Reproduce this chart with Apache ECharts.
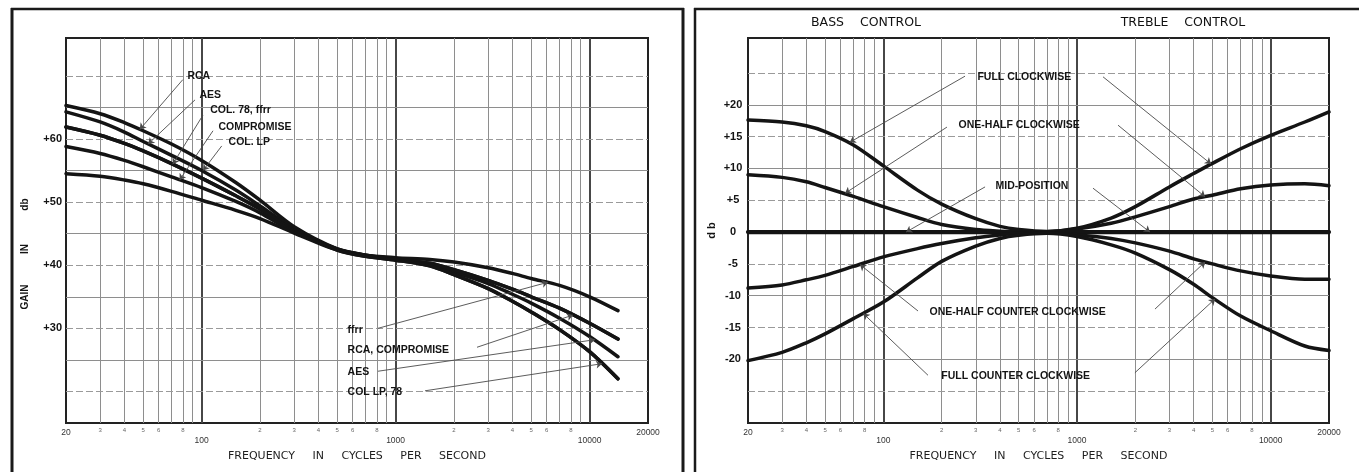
<!DOCTYPE html>
<html>
<head>
<meta charset="utf-8">
<title>Recording characteristics and tone control curves</title>
<script src="https://cdn.jsdelivr.net/npm/echarts@6/dist/echarts.min.js"></script>
<style>
  html, body { margin: 0; padding: 0; background: #ffffff; }
  #chart { width: 1359px; height: 472px; }
</style>
</head>
<body>
<div id="chart"></div>
<script>
// ---------- frequency axis (both panels) ----------
const FREQ_MIN = 20;
const FREQ_MAX = 20000;
const FREQ_DECADES = [100, 1000, 10000];
const FREQ_MINOR = [30, 40, 50, 60, 70, 80, 90,
                    200, 300, 400, 500, 600, 700, 800, 900,
                    2000, 3000, 4000, 5000, 6000, 7000, 8000, 9000];
const FREQ_MINOR_LABELED = [30, 40, 50, 60, 80,
                            200, 300, 400, 500, 600, 800,
                            2000, 3000, 4000, 5000, 6000, 8000];

// ---------- left panel: playback gain (db) ----------
const GAIN_MIN = 15;
const GAIN_MAX = 76;
const GAIN_TICK_LABELS = [30, 40, 50, 60];
const GAIN_GRID_SOLID = [25, 35, 45, 55, 65];
const GAIN_GRID_DASHED = [20, 30, 40, 50, 60, 70];

const FREQ_EQ = [20, 30, 40, 50, 70, 100, 150, 200, 300, 500, 700, 1000,
                 1500, 2000, 3000, 4000, 5000, 7000, 10000, 14000];
const RCA        = [65.3, 64.0, 62.6, 61.3, 59.2, 56.6, 53.1, 50.3, 46.1, 42.6, 41.6, 41.0,
                    40.3, 39.3, 37.6, 36.2, 35.0, 33.2, 30.8, 28.3];
const AES        = [64.3, 62.7, 61.1, 59.6, 57.4, 55.0, 51.9, 49.4, 45.8, 42.5, 41.5, 40.9,
                    40.1, 38.9, 37.1, 35.4, 34.0, 31.6, 28.7, 25.5];
const COL_78     = [61.9, 60.6, 59.3, 58.1, 56.1, 53.8, 51.0, 48.9, 45.5, 42.4, 41.4, 40.8,
                    39.9, 38.5, 36.3, 34.3, 32.6, 29.8, 26.3, 22.0];
const FFRR       = [61.9, 60.6, 59.3, 58.1, 56.1, 53.8, 51.0, 48.9, 45.5, 42.5, 41.6, 41.2,
                    40.9, 40.5, 39.6, 38.7, 37.9, 36.8, 35.0, 32.8];
const COMPROMISE = [58.8, 57.7, 56.6, 55.6, 54.0, 52.3, 50.1, 48.3, 45.3, 42.6, 41.6, 41.0,
                    40.3, 39.3, 37.6, 36.2, 35.0, 33.2, 30.8, 28.3];
const COL_LP     = [54.5, 54.1, 53.5, 52.9, 51.7, 50.3, 48.7, 47.4, 45.1, 42.4, 41.4, 40.8,
                    39.9, 38.5, 36.3, 34.3, 32.6, 29.8, 26.3, 22.0];

// ---------- right panel: bass / treble control (db) ----------
const DB_MIN = -30;
const DB_MAX = 30.5;
const DB_GRID_SOLID = [-20, -10, 10, 20];
const DB_GRID_DASHED = [-25, -15, -5, 5, 15, 25];

const FREQ_TONE = [20, 30, 40, 50, 70, 100, 150, 200, 300, 400, 500, 700,
                   1000, 1500, 2000, 3000, 4000, 5000, 7000, 10000, 15000, 20000];
const FULL_CW   = [17.6, 17.3, 16.7, 15.8, 13.7, 10.4, 6.6, 4.4, 2.1, 0.9, 0.4, 0.1,
                   0.6, 2.2, 4.0, 7.1, 9.2, 10.8, 13.1, 15.2, 17.3, 18.9];
const HALF_CW   = [9.0, 8.6, 7.9, 7.0, 5.6, 4.0, 2.3, 1.2, 0.4, 0.15, 0.05, 0.05,
                   0.5, 1.4, 2.4, 4.0, 5.2, 5.8, 6.8, 7.4, 7.6, 7.3];
const MID_POS   = [0, 0, 0, 0, 0, 0, 0, 0, 0, 0, 0, 0,
                   0, 0, 0, 0, 0, 0, 0, 0, 0, 0];
const HALF_CCW  = [-8.8, -8.3, -7.5, -6.8, -5.4, -3.9, -2.6, -1.8, -0.9, -0.45, -0.2, -0.1,
                   -0.4, -1.0, -1.7, -3.0, -4.2, -5.0, -6.1, -6.9, -7.4, -7.4];
const FULL_CCW  = [-20.2, -18.9, -17.4, -16.0, -13.6, -11.0, -7.2, -4.6, -2.2, -1.0, -0.5, -0.2,
                   -0.7, -2.0, -3.3, -5.9, -8.2, -10.3, -13.2, -15.5, -17.9, -18.6];

// ---------- callouts: text anchors and leader lines, in (Hz, db) ----------
const LEFT_NOTES = [
  { text: 'RCA',             at: [84, 70.0] },
  { text: 'AES',             at: [97, 67.0] },
  { text: 'COL. 78, ffrr',   at: [110, 64.6] },
  { text: 'COMPROMISE',      at: [121.5, 61.9] },
  { text: 'COL. LP',         at: [137, 59.5] },
  { text: 'ffrr',            at: [562, 29.7] },
  { text: 'RCA, COMPROMISE', at: [562, 26.6] },
  { text: 'AES',             at: [562, 23.1] },
  { text: 'COL LP, 78',      at: [562, 19.9] }
];
const LEFT_LEADERS = [
  [[80, 69.4], [48, 61.5]],
  [[92.5, 66.2], [53, 59.2]],
  [[101.7, 63.8], [71, 56.0]],
  [[114.5, 61.3], [77, 53.5]],
  [[127, 58.9], [101.7, 55.0]],
  [[811, 30.0], [6100, 37.3]],
  [[2628, 27.0], [8200, 32.1]],
  [[811, 23.2], [10660, 28.2]],
  [[1418, 20.1], [11600, 24.4]]
];
const RIGHT_NOTES = [
  { text: 'FULL CLOCKWISE',             at: [304, 24.4] },
  { text: 'ONE-HALF CLOCKWISE',         at: [243, 16.8] },
  { text: 'MID-POSITION',               at: [377, 7.2] },
  { text: 'ONE-HALF COUNTER CLOCKWISE', at: [172, -12.6] },
  { text: 'FULL COUNTER CLOCKWISE',     at: [198, -22.6] }
];
const RIGHT_LEADERS = [
  [[264, 24.5], [67, 14.1]],
  [[1362, 24.4], [4920, 10.7]],
  [[213, 16.5], [63.4, 6.1]],
  [[1628, 16.8], [4580, 5.55]],
  [[335, 7.1], [131, 0]],
  [[1209, 6.9], [2380, 0]],
  [[151, -12.4], [75.7, -5.1]],
  [[2526, -12.1], [4580, -4.7]],
  [[170, -22.5], [78.8, -12.8]],
  [[1990, -22.1], [5160, -10.5]]
];

// ---------- styling ----------
const INK = '#141414';
const GRID_GRAY = '#8e8e8e';
const DECADE_GRAY = '#474747';
const FONT = 'Liberation Sans';

function pairs(xs, ys) { return xs.map((x, i) => [x, ys[i]]); }

function leadingDigit(f) {
  return String(Math.round(f / Math.pow(10, Math.floor(Math.log10(f) + 1e-9))));
}

// paper grid: decade and minor verticals, solid / dashed horizontals
function paperGrid(solid, dashed) {
  const data = [];
  FREQ_DECADES.forEach(f => data.push({
    xAxis: f, lineStyle: { color: DECADE_GRAY, width: 2, type: 'solid' }, label: { show: false }
  }));
  FREQ_MINOR.forEach(f => data.push({
    xAxis: f,
    lineStyle: { color: GRID_GRAY, width: 1, type: 'solid' },
    label: FREQ_MINOR_LABELED.includes(f)
      ? { show: true, position: 'start', distance: 4, formatter: leadingDigit(f),
          fontSize: 6, color: '#666', fontFamily: FONT }
      : { show: false }
  }));
  solid.forEach(v => data.push({
    yAxis: v, lineStyle: { color: GRID_GRAY, width: 1, type: 'solid' }, label: { show: false }
  }));
  dashed.forEach(v => data.push({
    yAxis: v, lineStyle: { color: '#9a9a9a', width: 1, type: [7, 3] }, label: { show: false }
  }));
  return { silent: true, symbol: ['none', 'none'], animation: false, data };
}

function curve(name, xs, ys, gi, width) {
  return {
    type: 'line', name, xAxisIndex: gi, yAxisIndex: gi, z: 10, silent: true,
    data: pairs(xs, ys), smooth: 0.3, symbol: 'none',
    lineStyle: { color: INK, width: width || 3.5, cap: 'round' }
  };
}

function leaders(list, gi) {
  return {
    type: 'lines', coordinateSystem: 'cartesian2d', xAxisIndex: gi, yAxisIndex: gi,
    z: 11, silent: true, animation: false,
    symbol: ['none', 'arrow'], symbolSize: [0, 6],
    lineStyle: { color: '#4a4a4a', width: 0.9, opacity: 1, curveness: 0 },
    data: list.map(seg => ({ coords: seg }))
  };
}

function notes(list, gi) {
  return {
    type: 'scatter', xAxisIndex: gi, yAxisIndex: gi, z: 12, silent: true,
    symbol: 'circle', symbolSize: 1,
    itemStyle: { color: 'rgba(255,255,255,0)', opacity: 1 },
    label: {
      show: true, position: 'right', distance: 0, formatter: p => p.name,
      color: INK, opacity: 1, textBorderWidth: 0,
      fontFamily: FONT, fontWeight: 'bold', fontSize: 10.5
    },
    emphasis: { disabled: true },
    data: list.map(n => ({ name: n.text, value: n.at }))
  };
}

function freqAxis(gi) {
  return {
    gridIndex: gi, type: 'log', logBase: 10, min: FREQ_MIN, max: FREQ_MAX,
    axisLine: { show: false }, axisTick: { show: false }, splitLine: { show: false },
    axisLabel: {
      margin: 5, showMinLabel: true, showMaxLabel: true, hideOverlap: false,
      formatter: v => {
        const f = Math.round(v);
        return FREQ_DECADES.includes(f) ? '{d|' + f + '}' : '{e|' + f + '}';
      },
      rich: {
        d: { fontSize: 8.5, color: '#333', fontFamily: FONT, padding: [8, 0, 0, 0] },
        e: { fontSize: 8.5, color: '#333', fontFamily: FONT }
      }
    },
    name: 'FREQUENCY     IN     CYCLES     PER     SECOND',
    nameLocation: 'middle', nameGap: 28,
    nameTextStyle: { fontFamily: 'DejaVu Sans', fontSize: 11, color: '#1e1e1e' }
  };
}

const chart = echarts.init(document.getElementById('chart'));

chart.setOption({
  animation: false,
  backgroundColor: '#ffffff',
  grid: [
    { left: 66, top: 38, width: 582, height: 385, show: true,
      borderColor: '#222', borderWidth: 2, backgroundColor: 'transparent' },
    { left: 748, top: 38, width: 581, height: 385, show: true,
      borderColor: '#222', borderWidth: 2, backgroundColor: 'transparent' }
  ],
  xAxis: [freqAxis(0), freqAxis(1)],
  yAxis: [
    {
      gridIndex: 0, type: 'value', min: GAIN_MIN, max: GAIN_MAX, interval: 5,
      axisLine: { show: false }, axisTick: { show: false }, splitLine: { show: false },
      axisLabel: {
        margin: 4, color: INK, fontFamily: FONT, fontWeight: 'bold', fontSize: 11,
        showMinLabel: true, showMaxLabel: true,
        formatter: v => GAIN_TICK_LABELS.includes(v) ? '+' + v : ''
      }
    },
    {
      gridIndex: 1, type: 'value', min: DB_MIN, max: DB_MAX, interval: 5,
      axisLine: { show: false }, axisTick: { show: false }, splitLine: { show: false },
      axisLabel: {
        margin: 15, align: 'center', color: INK, fontFamily: FONT, fontWeight: 'bold', fontSize: 11,
        formatter: v => Math.abs(v) > 20 ? '' : (v > 0 ? '+' + v : (v < 0 ? '-' + Math.abs(v) : '0'))
      },
      name: 'd b', nameLocation: 'middle', nameGap: 31, nameRotate: 90,
      nameTextStyle: { fontFamily: FONT, fontWeight: 'bold', fontSize: 11, color: INK }
    }
  ],
  series: [
    // left panel
    { type: 'line', xAxisIndex: 0, yAxisIndex: 0, data: [], silent: true,
      markLine: paperGrid(GAIN_GRID_SOLID, GAIN_GRID_DASHED) },
    curve('RCA', FREQ_EQ, RCA, 0),
    curve('AES', FREQ_EQ, AES, 0),
    curve('COL. 78', FREQ_EQ, COL_78, 0),
    curve('ffrr', FREQ_EQ, FFRR, 0),
    curve('COMPROMISE', FREQ_EQ, COMPROMISE, 0),
    curve('COL. LP', FREQ_EQ, COL_LP, 0),
    leaders(LEFT_LEADERS, 0),
    notes(LEFT_NOTES, 0),
    // right panel
    { type: 'line', xAxisIndex: 1, yAxisIndex: 1, data: [], silent: true,
      markLine: paperGrid(DB_GRID_SOLID, DB_GRID_DASHED) },
    curve('FULL CLOCKWISE', FREQ_TONE, FULL_CW, 1),
    curve('ONE-HALF CLOCKWISE', FREQ_TONE, HALF_CW, 1),
    curve('MID-POSITION', FREQ_TONE, MID_POS, 1, 4.2),
    curve('ONE-HALF COUNTER CLOCKWISE', FREQ_TONE, HALF_CCW, 1),
    curve('FULL COUNTER CLOCKWISE', FREQ_TONE, FULL_CCW, 1),
    leaders(RIGHT_LEADERS, 1),
    notes(RIGHT_NOTES, 1)
  ],
  graphic: [
    // panel frames
    { type: 'line', silent: true, shape: { x1: 12, y1: 8, x2: 12, y2: 472 },
      style: { stroke: '#1a1a1a', lineWidth: 3 } },
    { type: 'line', silent: true, shape: { x1: 11, y1: 9, x2: 684, y2: 9 },
      style: { stroke: '#1a1a1a', lineWidth: 2.5 } },
    { type: 'line', silent: true, shape: { x1: 683, y1: 8, x2: 683, y2: 472 },
      style: { stroke: '#1a1a1a', lineWidth: 3 } },
    { type: 'line', silent: true, shape: { x1: 695, y1: 8, x2: 695, y2: 472 },
      style: { stroke: '#1a1a1a', lineWidth: 2.5 } },
    { type: 'line', silent: true, shape: { x1: 694, y1: 9, x2: 1359, y2: 9 },
      style: { stroke: '#1a1a1a', lineWidth: 2.5 } },
    // left axis title
    { type: 'text', silent: true, x: 25, y: 254, rotation: Math.PI / 2,
      style: { text: 'GAIN           IN            db', fill: INK,
               font: 'bold 10px "Liberation Sans"',
               align: 'center', verticalAlign: 'middle',
               textAlign: 'center', textVerticalAlign: 'middle' } },
    // right panel headings
    { type: 'text', silent: true, x: 866, y: 23,
      style: { text: 'BASS    CONTROL', fill: '#111', font: '12.5px "DejaVu Sans"',
               align: 'center', verticalAlign: 'middle',
               textAlign: 'center', textVerticalAlign: 'middle' } },
    { type: 'text', silent: true, x: 1183, y: 23,
      style: { text: 'TREBLE    CONTROL', fill: '#111', font: '12.5px "DejaVu Sans"',
               align: 'center', verticalAlign: 'middle',
               textAlign: 'center', textVerticalAlign: 'middle' } }
  ]
});
</script>
</body>
</html>
